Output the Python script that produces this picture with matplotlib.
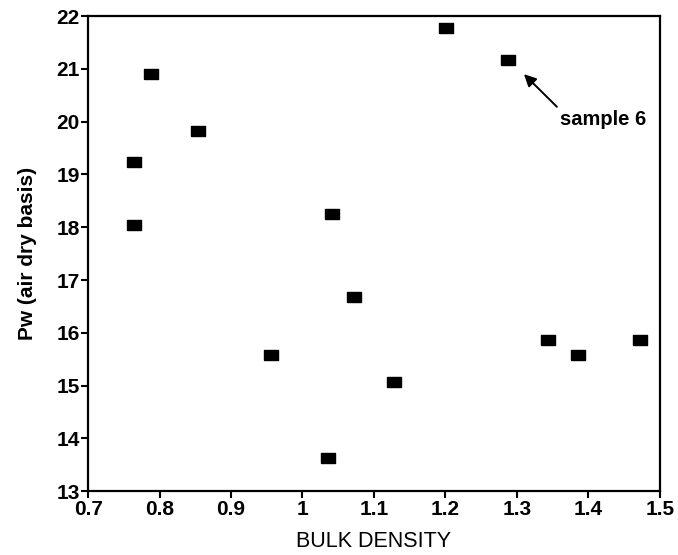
import matplotlib
matplotlib.use("Agg")
import matplotlib.pyplot as plt

# bulk density vs Pw (air dry basis)
bulk_density = [0.764, 0.764, 0.788, 0.854, 0.956, 1.036, 1.042, 1.072,
                1.128, 1.201, 1.287, 1.344, 1.385, 1.472]
pw = [18.05, 19.23, 20.90, 19.83, 15.58, 13.62, 18.26, 16.68,
      15.06, 21.78, 21.16, 15.87, 15.58, 15.87]

x_ticks = [0.7, 0.8, 0.9, 1.0, 1.1, 1.2, 1.3, 1.4, 1.5]
x_labels = ["0.7", "0.8", "0.9", "1", "1.1", "1.2", "1.3", "1.4", "1.5"]
y_ticks = list(range(13, 23))

plt.rcParams['font.family'] = ['Liberation Sans', 'DejaVu Sans']

fig = plt.figure(figsize=(6.78, 5.55), dpi=100)
ax = fig.add_axes([0.130, 0.115, 0.843, 0.856])

# wide block marker
rect = [(-1.3, -1), (1.3, -1), (1.3, 1), (-1.3, 1), (-1.3, -1)]
ax.scatter(bulk_density, pw, marker=rect, s=100, color='black', zorder=3)

ax.set_xlim(0.7, 1.5)
ax.set_ylim(13, 22)
ax.set_xticks(x_ticks)
ax.set_xticklabels(x_labels, fontsize=15, fontweight='bold')
ax.set_yticks(y_ticks)
ax.set_yticklabels([str(t) for t in y_ticks], fontsize=15, fontweight='bold')
ax.tick_params(direction='out', length=5, width=1.5, pad=1)

for s in ax.spines.values():
    s.set_linewidth(1.6)

ax.set_xlabel("BULK DENSITY", fontsize=15.5, labelpad=9)
ax.set_ylabel("Pw (air dry basis)", fontsize=15, fontweight='bold', labelpad=14)

ax.annotate("sample 6", xy=(1.31, 20.9), xytext=(1.36, 20.05),
            fontsize=14.5, fontweight='bold', va='center', ha='left',
            arrowprops=dict(arrowstyle='-|>', color='black', lw=1.4,
                            mutation_scale=18, shrinkA=0, shrinkB=0,
                            relpos=(0.0, 1.0)))

plt.savefig("out.png", dpi=100)
